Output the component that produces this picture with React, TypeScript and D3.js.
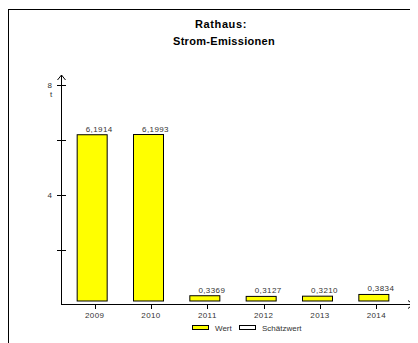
import React from "react";
import * as d3 from "d3";

const years = ["2009", "2010", "2011", "2012", "2013", "2014"];
const values = [6.1914, 6.1993, 0.3369, 0.3127, 0.321, 0.3834];
const valueLabels = ["6,1914", "6,1993", "0,3369", "0,3127", "0,3210", "0,3834"];
const yTicks = [2, 4, 6, 8];
const yTickLabels: Record<number, string> = { 4: "4", 8: "8" };
const legendItems = [
  { label: "Wert", fill: "#ffff00" },
  { label: "Schätzwert", fill: "#ffffff" },
];

const font = "Liberation Sans, Arial, sans-serif";

export default function App() {
  // page coordinates; the group below undoes the 8px body margin
  const x0 = 61;
  const y = d3.scaleLinear().domain([0, 8]).range([304.5, 84.5]);
  const x = d3.scaleBand<string>().domain(years).range([66.5, 404.5]);
  const barW = 30;
  const center = (d: string) => (x(d) ?? 0) + x.bandwidth() / 2;

  return (
    <svg width={410} height={335} style={{ display: "block" }}>
      <g transform="translate(-8,-8)" fontFamily={font}>
        <rect x={8.5} y={9.5} width={600} height={600} fill="#fff" stroke="#000" />

        <text x={221} y={28} textAnchor="middle" fontSize={11} fontWeight="bold" letterSpacing={0.6}>
          Rathaus:
        </text>
        <text x={224} y={45} textAnchor="middle" fontSize={11} fontWeight="bold" letterSpacing={0.3}>
          Strom-Emissionen
        </text>

        {/* bars */}
        {years.map((yr, i) => {
          const c = center(yr);
          const top = y(values[i]);
          return (
            <g key={yr}>
              <rect
                x={c - 18 + 0.5}
                y={top + 0.5}
                width={barW}
                height={y(0) - 4 - top}
                fill="#ffff00"
                stroke="#000"
              />
              <text
                x={c + 4.5}
                y={top - 2.5}
                textAnchor="middle"
                fontSize={8}
                fill="#333"
                letterSpacing={0.4}
              >
                {valueLabels[i]}
              </text>
            </g>
          );
        })}

        {/* y axis */}
        <line x1={x0 + 0.5} x2={x0 + 0.5} y1={y(0) + 0.5} y2={75} stroke="#000" />
        <path d={`M${x0 - 3.5},${80} L${x0 + 0.5},${75} L${x0 + 4.5},${80}`} fill="none" stroke="#000" />
        {yTicks.map((t) => (
          <g key={t}>
            <line x1={x0 - 4} x2={x0 + 5} y1={Math.round(y(t)) + 0.5} y2={Math.round(y(t)) + 0.5} stroke="#000" />
            {yTickLabels[t] && (
              <text x={52} y={y(t) + 3} textAnchor="end" fontSize={8} fill="#333">
                {yTickLabels[t]}
              </text>
            )}
          </g>
        ))}
        <text x={51} y={97} textAnchor="middle" fontSize={8} fill="#333">t</text>

        {/* x axis */}
        <line x1={x0} x2={413} y1={304.5} y2={304.5} stroke="#000" />
        <path d={`M408,300.5 L413,304.5 L408,308.5`} fill="none" stroke="#000" />
        {years.map((yr) => (
          <g key={yr}>
            <line x1={Math.round(center(yr)) + 0.5} x2={Math.round(center(yr)) + 0.5} y1={304} y2={309} stroke="#000" />
            <text x={center(yr)} y={318} textAnchor="middle" fontSize={8} fill="#333" letterSpacing={0.4}>
              {yr}
            </text>
          </g>
        ))}

        {/* legend */}
        {legendItems.map((it, i) => {
          const lx = i === 0 ? 192 : 239;
          return (
            <g key={it.label}>
              <rect x={lx + 0.5} y={325.5} width={16} height={4} fill={it.fill} stroke="#000" />
              <text x={lx + 23} y={331} fontSize={8} fill="#333">
                {it.label}
              </text>
            </g>
          );
        })}
      </g>
    </svg>
  );
}
